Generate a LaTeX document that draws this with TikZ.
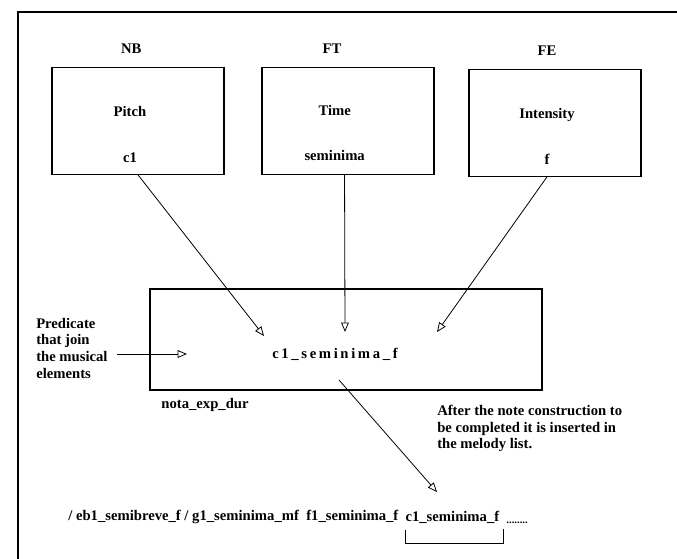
\documentclass[tikz,border=0pt]{standalone}
\usepackage{fontspec}
\setmainfont{Liberation Serif}
\usepackage{tikz}
\usetikzlibrary{arrows}
\usetikzlibrary{positioning}

\begin{document}
\begin{tikzpicture}[
            x=0.75pt, y=-0.75pt,
            every node/.style={inner sep=0pt, font=\bfseries\fontsize{11}{12.5}\selectfont},
            elbox/.style={draw=black, line width=0.8pt, minimum width=129pt, minimum height=80pt},
            predbox/.style={draw=black, line width=1.3pt, minimum width=294pt, minimum height=76pt},
            conn/.style={draw, line width=0.6pt, -open triangle 45},
            node distance=10pt
        ]
            \useasboundingbox (0,0) rectangle (677,559);
            % frame (cut at right and bottom)
            \draw[line width=1.5pt] (677,12) -- (18,12) -- (18,559);

            % the three musical elements
            \node [elbox] (pitch) at (138,121) {};
            \node [elbox] (timebox) at (348,121) {};
            \node [elbox] (intens) at (555,123) {};
            \node [above=10pt of pitch, xshift=-5pt] (nb) {NB};
            \node [above=10pt of timebox, xshift=-12pt] (ft) {FT};
            \node [above=10pt of intens, xshift=-6pt] (fe) {FE};
            \node at ([xshift=-6pt,yshift=7pt]pitch.center) (pitchname) {Pitch};
            \node [anchor=base] at ([xshift=-6pt,yshift=9pt]pitch.south) (pitchval) {c1};
            \node at ([xshift=-10pt,yshift=8pt]timebox.center) (timename) {Time};
            \node [anchor=base] at ([xshift=-10pt,yshift=11pt]timebox.south) (timeval) {seminima};
            \node at ([xshift=-6pt,yshift=6pt]intens.center) (intensname) {Intensity};
            \node [anchor=base] at ([xshift=-6pt,yshift=9pt]intens.south) (intensval) {f};

            % predicate box
            \node [predbox] (nota) at (346,339.5) {};
            \node at (335,354) (note) {\addfontfeature{LetterSpace=18}c1\_seminima\_f};
            \node [anchor=north west] at ([xshift=9pt,yshift=-5pt]nota.south west) (notaname) {nota\_exp\_dur};
            \node [anchor=west, align=left] at (36,348) (predtxt) {Predicate\\that join\\the musical\\elements};
            \node [anchor=north west, align=left] at (437,405) (aftertxt) {After the note construction to\\be completed it is inserted in\\the melody list.};

            % melody list
            \node [anchor=west] at (68,517) (listhead) {/ eb1\_semibreve\_f / g1\_seminima\_mf\ \ f1\_seminima\_f};
            \node [right=5pt of listhead] (listnote) {c1\_seminima\_f};
            \node [right=5pt of listnote.south east, anchor=south west] (listdots) {\footnotesize........};

            \coordinate (pitchin) at (264,336);
            \coordinate (timein) at (345,332);
            \coordinate (intensin) at (437,332);
            \coordinate (joinstart) at (117,354);
            \coordinate (joinend) at (187,354);
            \coordinate (outstart) at (339,380);
            \coordinate (listin) at (437,492);

            \path [conn] (pitch.south) -- (pitchin);
            \path [conn] ([xshift=-2.6pt]timebox.south) -- (timein);
            \path [conn] ([xshift=-6pt]intens.south) -- (intensin);
            \path [conn] (joinstart) -- (joinend);
            \path [conn] (outstart) -- (listin);
            \draw [line width=0.8pt] ([yshift=-5pt]listnote.south west) -- ([yshift=-15pt]listnote.south west)
                -- ([xshift=3pt,yshift=-15pt]listnote.south east) -- ([xshift=3pt,yshift=-4pt]listnote.south east);
        \end{tikzpicture}
\end{document}
